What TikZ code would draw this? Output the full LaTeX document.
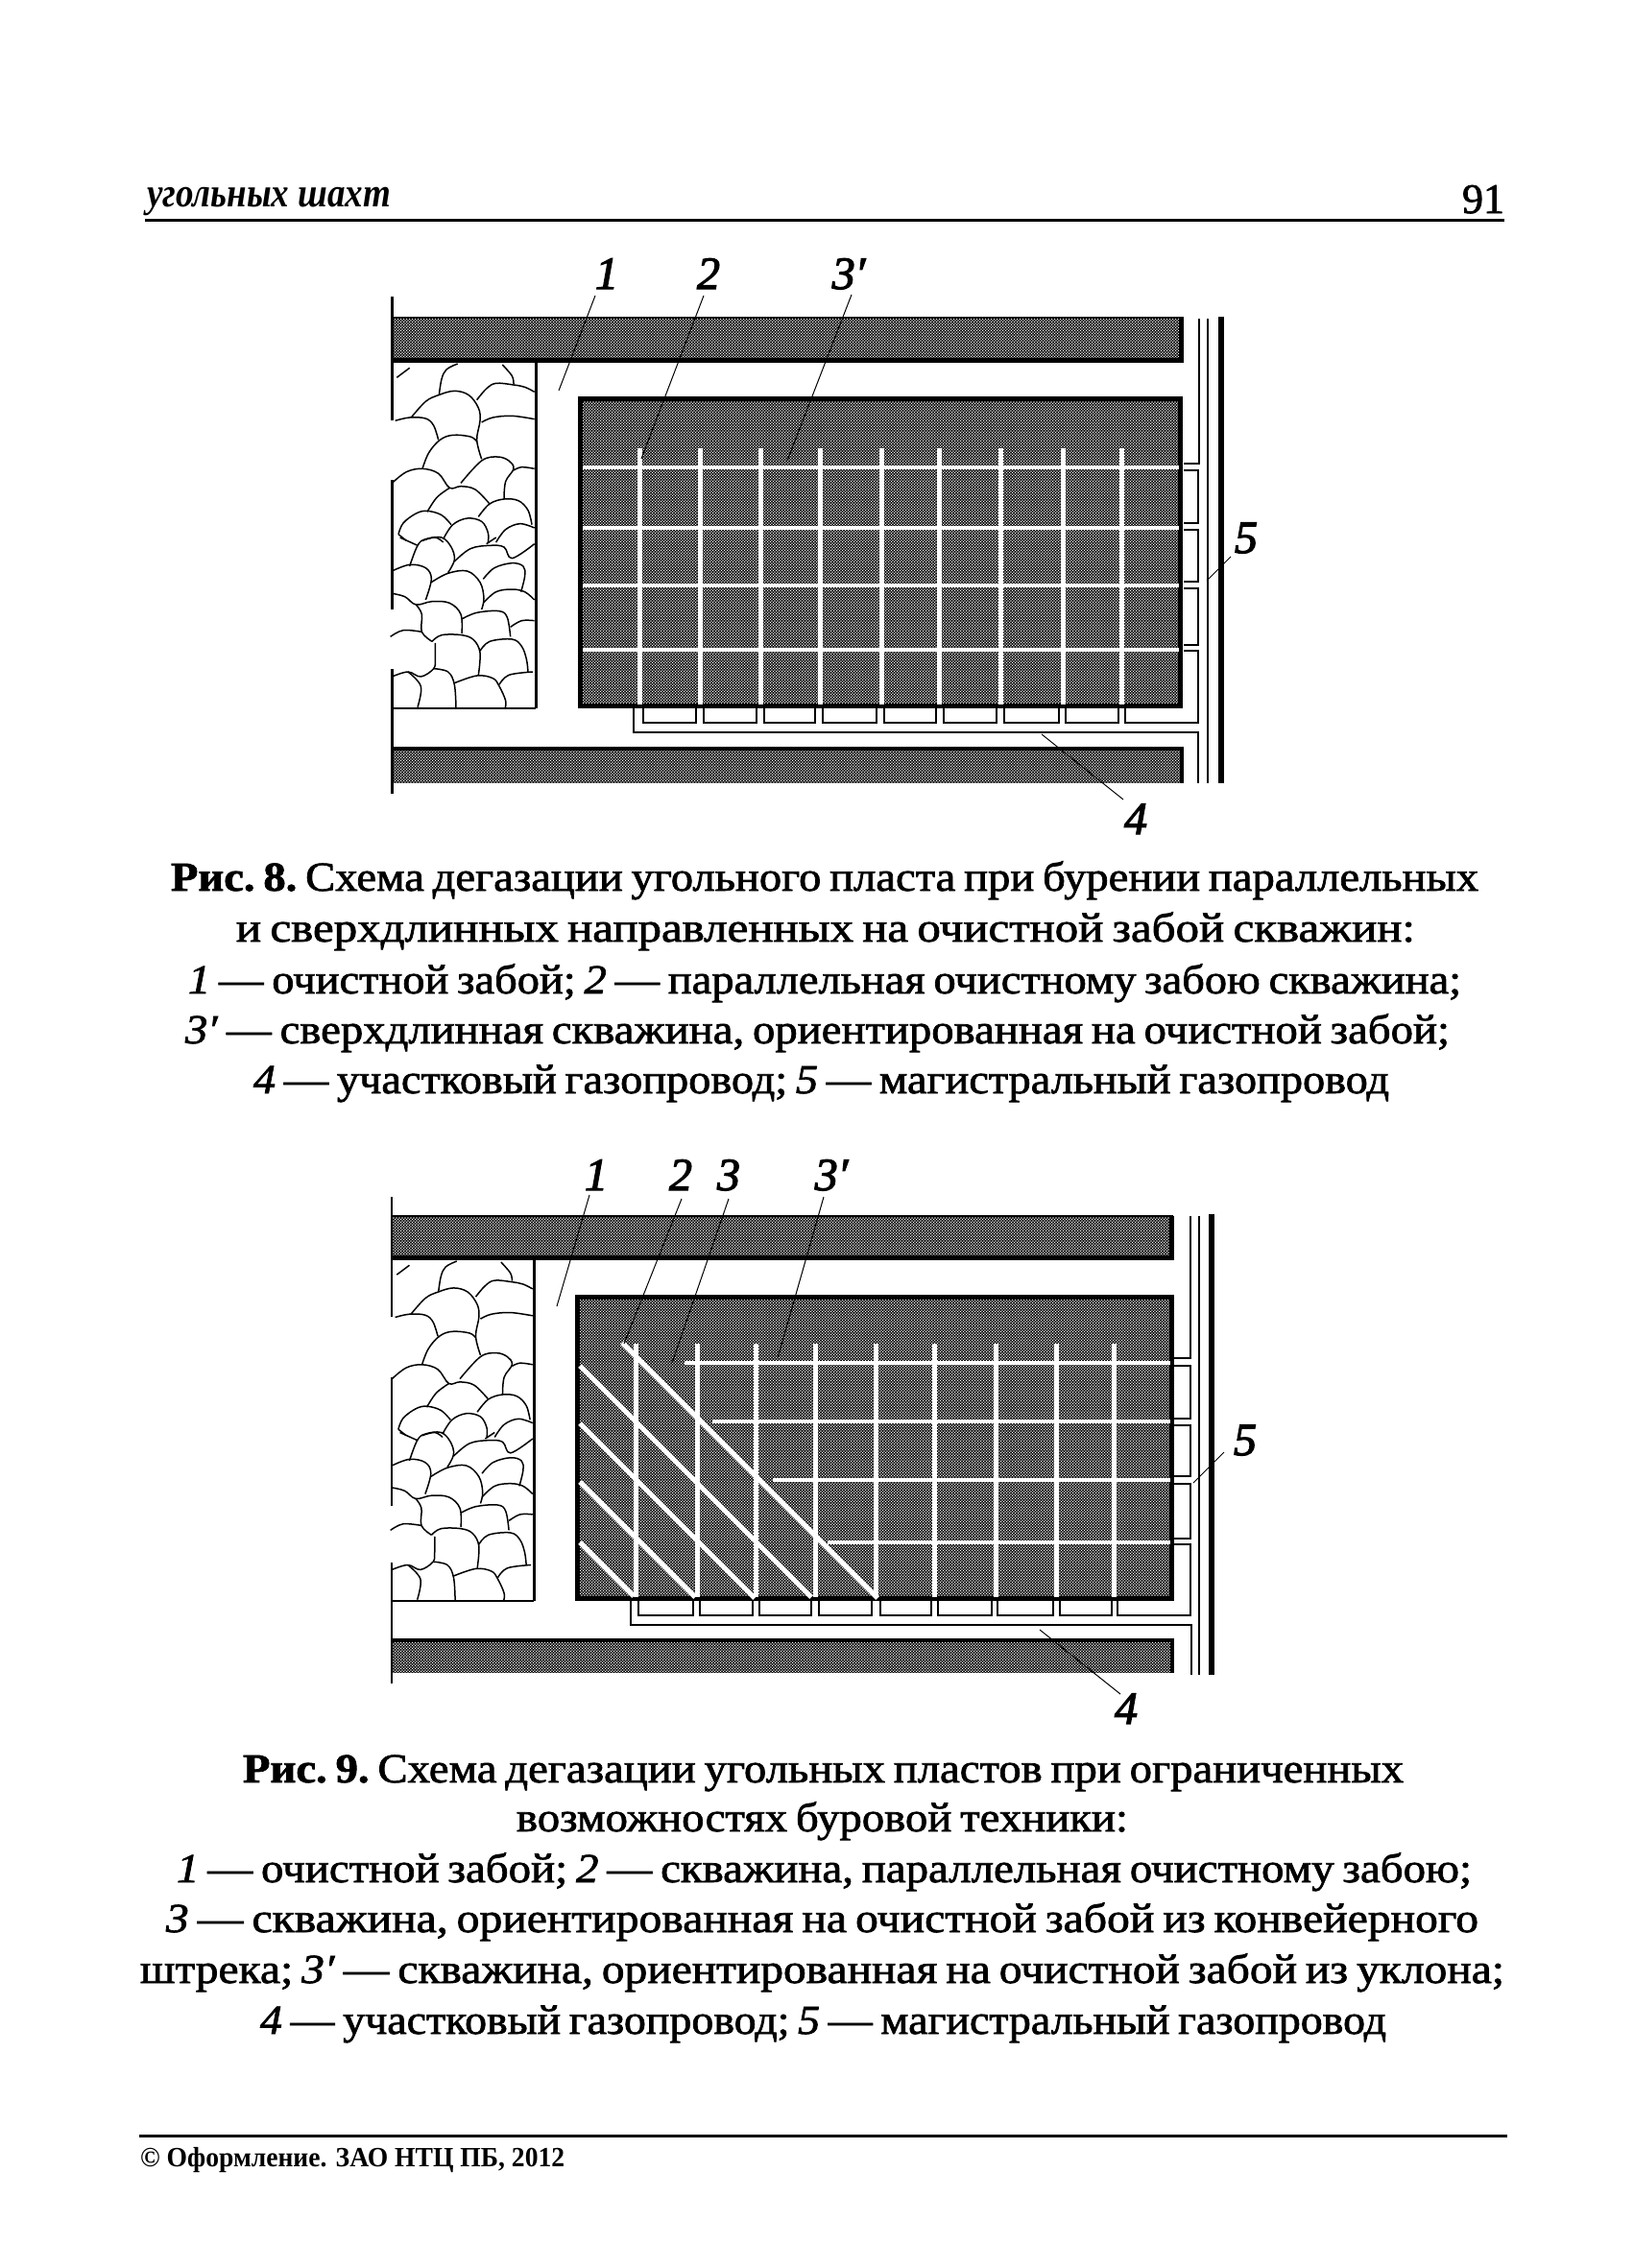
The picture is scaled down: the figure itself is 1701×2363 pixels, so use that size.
\documentclass[tikz,border=0pt]{standalone}
\usepackage{fontspec}
\usepackage{graphicx}
\usetikzlibrary{patterns}
\setmainfont{Liberation Serif}
\newfontfamily\capfont[FakeBold=1.6]{Liberation Serif}
\newfontfamily\labfont[FakeBold=2.5]{Liberation Serif}
\pgfdeclarepatternformonly{halftone}{\pgfqpoint{0pt}{0pt}}{\pgfqpoint{3.4pt}{3.4pt}}{\pgfqpoint{3.4pt}{3.4pt}}{%
  \pgfpathrectangle{\pgfqpoint{0pt}{0pt}}{\pgfqpoint{1.25pt}{1.25pt}}%
  \pgfpathrectangle{\pgfqpoint{1.7pt}{1.7pt}}{\pgfqpoint{1.25pt}{1.25pt}}%
  \pgfusepath{fill}}
\tikzset{
  hatchfill/.style={preaction={fill=black},pattern=halftone,pattern color=white},
  edgeline/.style={draw=black,line width=5pt},
  wellline/.style={draw=white,line width=5pt},
  pipeline/.style={draw=black,line width=1.7pt},
  wallline/.style={draw=black,line width=3pt},
  rubble/.style={draw=black,line width=1.5pt,line join=round},
  leader/.style={draw=black,line width=1pt},
  numlabel/.style={inner sep=0pt,anchor=base,font=\fontsize{48}{48}\selectfont\labfont\itshape},
  capline/.style={inner sep=0pt,anchor=base,font=\fontsize{43}{52}\selectfont\capfont}
}
\newcommand\fitline[5]{\pgfmathsetmacro\linemid{(#3+#4)/2}\pgfmathsetmacro\linewide{#4-#3}%
  \node[capline] (#1) at (\linemid,#2) {\resizebox{\linewide pt}{\height}{\frenchspacing\spaceskip=.19em\relax #5}};}
\newcommand\rb[1]{\draw[rubble] plot[smooth,tension=.6] coordinates {#1};}
\newcommand\rubblestones{%
  \begin{scope}[shift={(400,375)},scale=1/3]
  \rb{(40,55)(80,25)}
  \rb{(172,110)(180,60)(195,30)(230,12)}
  \rb{(370,15)(400,50)(405,75)}
  \rb{(290,125)(320,90)(350,73)(405,78)(440,85)(470,100)}
  \rb{(35,190)(80,180)(130,183)(155,205)(170,250)}
  \rb{(85,180)(130,130)(170,110)(220,97)(265,110)(295,150)(300,190)(290,250)(305,310)}
  \rb{(305,195)(340,180)(400,175)(470,185)}
  \rb{(120,340)(140,290)(175,250)(215,235)(270,240)(290,255)}
  \rb{(25,385)(70,350)(120,340)(170,355)(205,400)(240,395)(285,405)(330,450)}
  \rb{(240,385)(305,315)(355,303)(390,315)(405,340)(380,380)(375,435)}
  \rb{(405,345)(430,335)(470,340)}
  \rb{(135,475)(165,430)(205,400)}
  \rb{(295,490)(330,450)(375,435)(420,440)(450,470)(462,515)}
  \rb{(45,545)(60,510)(100,480)(135,472)(180,485)(210,515)}
  \rb{(185,560)(215,515)(260,495)(305,505)(325,540)(325,570)}
  \rb{(350,570)(380,530)(425,512)(470,525)}
  \rb{(45,545)(70,565)}
  \rb{(120,565)(160,555)(185,570)}
  \end{scope}
  \begin{scope}[shift={(400,560)},scale=1/3]
  \rb{(80,90)(105,25)(130,5)(180,0)(210,30)(220,70)(200,110)}
  \rb{(50,0)(105,25)}
  \rb{(220,75)(270,35)(330,25)(375,30)(400,65)(470,20)}
  \rb{(320,20)(350,0)}
  \rb{(25,105)(80,85)(130,95)(148,130)(130,195)}
  \rb{(148,140)(200,112)(260,105)(300,140)(312,190)(305,225)}
  \rb{(310,130)(345,95)(400,80)(435,90)(440,120)(428,170)}
  \rb{(310,205)(350,170)(400,162)(440,170)(470,195)}
  \rb{(25,175)(65,185)(100,210)(150,200)(205,205)(240,240)(243,300)}
  \rb{(100,210)(118,240)(118,295)(150,325)}
  \rb{(20,310)(60,290)(118,295)}
  \rb{(150,325)(180,305)(243,305)(280,320)(300,360)(295,430)}
  \rb{(243,255)(290,235)(360,230)(385,250)(395,310)}
  \rb{(395,280)(430,260)(470,260)}
  \rb{(300,355)(330,325)(400,318)(430,340)(445,380)(450,420)}
  \rb{(160,330)(160,380)(155,410)(115,435)(75,420)(25,435)}
  \rb{(75,420)(115,465)(105,530)}
  \rb{(155,410)(200,420)(220,460)(225,535)}
  \rb{(220,455)(290,432)(340,440)(360,465)(380,510)(378,535)}
  \rb{(360,460)(390,430)(465,420)}
  \end{scope}}
\begin{document}
\begin{tikzpicture}[x=1pt,y=-1pt]
\useasboundingbox (0,0) rectangle (1701,2363);
\fill[white] (0,0) rectangle (1701,2363);

%% header
\node[inner sep=0pt,anchor=base west,font=\fontsize{43}{43}\selectfont\bfseries\itshape] (headtext) at (153,215) {\resizebox{254pt}{\height}{угольных шахт}};
\node[inner sep=0pt,anchor=base,font=\fontsize{44}{44}\selectfont\capfont] (pageno) at (1545,222) {91};
\coordinate (headL) at (151,229); \coordinate (headR) at (1567,229);
\draw[line width=3pt] (headL) -- (headR);

%% ---------- figure 8 ----------
\fill[hatchfill] (408,330) rectangle (1233,377);
\fill[hatchfill] (408,778) rectangle (1233,816);
\fill[hatchfill] (602,413) rectangle (1232,738);
\draw[line width=5pt] (408,375) -- (1230.5,375) -- (1230.5,332);
\draw[line width=2pt] (408,331) -- (1233,331);
\draw[line width=4pt] (408,780) -- (1233,780);
\draw[line width=4pt] (1231,778) -- (1231,816);
\draw[edgeline] (604.5,415.5) rectangle (1229.5,735.5);
\foreach \y in {487,550,610,677} \draw[wellline,line width=4.5pt] (607,\y) -- (1228,\y);
\foreach \x in {666,729,792,854,918,978,1042,1107,1168} \draw[wellline] (\x,467) -- (\x,734);
% walls
\draw[wallline] (408,309) -- (408,438);
\draw[wallline] (408,500) -- (408,635);
\draw[wallline] (408,697) -- (408,827);
\draw[wallline] (558,377) -- (558,738);
\draw[line width=2pt] (408,738) -- (558,738);
\rubblestones
% pipes
\draw[pipeline] (1233,483) -- (1249,483) -- (1249,332);
\foreach \a/\b in {490/545,552/606,613/672} \draw[pipeline] (1233,\a) -- (1248,\a) -- (1248,\b) -- (1233,\b);
\draw[pipeline] (1233,678) -- (1248,678) -- (1248,753) -- (1172,753) -- (1172,738);
\foreach \a/\b in {670/725,733/788,796/849,857/913,921/975,983/1038,1046/1103,1110/1165}
  \draw[pipeline] (\a,738) -- (\a,753) -- (\b,753) -- (\b,738);
\draw[pipeline] (660,738) -- (660,763) -- (1248,763) -- (1248,816);
\draw[line width=2.5pt] (1258,332) -- (1258,816);
\draw[line width=6pt] (1272,330) -- (1272,816);
% labels
\node[numlabel] (a1) at (632,301) {1};
\node[numlabel] (a2) at (738,301) {2};
\node[numlabel] (a3) at (884,301) {3′};
\node[numlabel] (a5) at (1298,576) {5};
\node[numlabel] (a4) at (1183,869) {4};
\coordinate (a1s) at (620,308); \coordinate (a1e) at (582,407);
\coordinate (a2s) at (733,308); \coordinate (a2e) at (668,478);
\coordinate (a3s) at (887,307); \coordinate (a3e) at (820,480);
\coordinate (a5s) at (1282,580); \coordinate (a5e) at (1257,605);
\coordinate (a4s) at (1170,833); \coordinate (a4e) at (1085,765);
\foreach \s/\e in {a1s/a1e,a2s/a2e,a3s/a3e,a5s/a5e,a4s/a4e} \draw[leader] (\s) -- (\e);
% caption
\fitline{c1}{928}{178}{1540}{\textbf{Рис. 8.} Схема дегазации угольного пласта при бурении параллельных}
\fitline{c2}{981}{246}{1474}{и сверхдлинных направленных на очистной забой скважин:}
\fitline{c3}{1035}{196}{1522}{\textit{1} — очистной забой; \textit{2} — параллельная очистному забою скважина;}
\fitline{c4}{1087}{193}{1510}{\textit{3′} — сверхдлинная скважина, ориентированная на очистной забой;}
\fitline{c5}{1139}{264}{1447}{\textit{4} — участковый газопровод; \textit{5} — магистральный газопровод}

%% ---------- figure 9 ----------
\fill[hatchfill] (408,1266) rectangle (1222,1312);
\fill[hatchfill] (408,1707) rectangle (1222,1743);
\fill[hatchfill] (599,1349) rectangle (1223,1668);
\draw[line width=5pt] (408,1310) -- (1220,1310) -- (1220,1267);
\draw[line width=2pt] (408,1267) -- (1222,1267);
\draw[line width=4pt] (408,1709) -- (1222,1709);
\draw[line width=4pt] (1221,1707) -- (1221,1743);
\draw[edgeline] (601.5,1351.5) rectangle (1220.5,1665.5);
\foreach \y/\x in {1420/713,1481/742,1542/805,1607/862} \draw[wellline,line width=4.5pt] (\x,\y) -- (1219,\y);
\foreach \x in {662,726,787,849,912,973,1037,1100,1160} \draw[wellline] (\x,1400) -- (\x,1664);
\foreach \x/\y/\u/\v in {648/1399/914/1665,604/1423/845/1664,604/1483/786/1665,604/1544/724/1664,604/1607/660/1663}
  \draw[wellline] (\x,\y) -- (\u,\v);
% walls
\draw[wallline,line width=2pt] (408,1247) -- (408,1372);
\draw[wallline,line width=2pt] (408,1435) -- (408,1569);
\draw[wallline,line width=2pt] (408,1628) -- (408,1754);
\draw[wallline] (556,1312) -- (556,1668);
\draw[line width=2pt] (408,1668) -- (556,1668);
\begin{scope}[shift={(408,1312)},xscale=.987,yscale=.986,shift={(-408,-377)}]
\rubblestones
\end{scope}
% pipes
\draw[pipeline] (1223,1415) -- (1240,1415) -- (1240,1267);
\foreach \a/\b in {1423/1478,1485/1538,1546/1603} \draw[pipeline] (1223,\a) -- (1240,\a) -- (1240,\b) -- (1223,\b);
\draw[pipeline] (1223,1609) -- (1240,1609) -- (1240,1683) -- (1164,1683) -- (1164,1668);
\foreach \a/\b in {665/722,729/784,791/845,853/908,917/970,977/1033,1039/1097,1104/1158}
  \draw[pipeline] (\a,1668) -- (\a,1683) -- (\b,1683) -- (\b,1668);
\draw[pipeline] (657,1668) -- (657,1693) -- (1241,1693) -- (1241,1745);
\draw[line width=2.5pt] (1249,1267) -- (1249,1745);
\draw[line width=6pt] (1262,1265) -- (1262,1745);
% labels
\node[numlabel] (b1) at (621,1240) {1};
\node[numlabel] (b2) at (709,1240) {2};
\node[numlabel] (b3) at (759,1240) {3};
\node[numlabel] (b3p) at (866,1240) {3′};
\node[numlabel] (b5) at (1297,1516) {5};
\node[numlabel] (b4) at (1173,1796) {4};
\coordinate (b1s) at (614,1245); \coordinate (b1e) at (580,1361);
\coordinate (b2s) at (710,1249); \coordinate (b2e) at (650,1400);
\coordinate (b3s) at (759,1249); \coordinate (b3e) at (700,1420);
\coordinate (b3ps) at (858,1247); \coordinate (b3pe) at (810,1415);
\coordinate (b5s) at (1275,1513); \coordinate (b5e) at (1243,1545);
\coordinate (b4s) at (1167,1765); \coordinate (b4e) at (1083,1698);
\foreach \s/\e in {b1s/b1e,b2s/b2e,b3s/b3e,b3ps/b3pe,b5s/b5e,b4s/b4e} \draw[leader] (\s) -- (\e);
% caption
\fitline{d1}{1857}{253}{1462}{\textbf{Рис. 9.} Схема дегазации угольных пластов при ограниченных}
\fitline{d2}{1908}{538}{1175}{возможностях буровой техники:}
\fitline{d3}{1961}{184}{1533}{\textit{1} — очистной забой; \textit{2} — скважина, параллельная очистному забою;}
\fitline{d4}{2013}{173}{1540}{\textit{3} — скважина, ориентированная на очистной забой из конвейерного}
\fitline{d5}{2066}{146}{1567}{штрека; \textit{3′} — скважина, ориентированная на очистной забой из уклона;}
\fitline{d6}{2119}{271}{1444}{\textit{4} — участковый газопровод; \textit{5} — магистральный газопровод}

%% footer
\coordinate (footL) at (145,2225); \coordinate (footR) at (1570,2225);
\draw[line width=3pt] (footL) -- (footR);
\node[inner sep=0pt,anchor=base west,font=\fontsize{29}{29}\selectfont\bfseries] (foottext) at (146,2257) {\resizebox{442pt}{\height}{© Оформление. ЗАО НТЦ ПБ, 2012}};
\end{tikzpicture}
\end{document}
